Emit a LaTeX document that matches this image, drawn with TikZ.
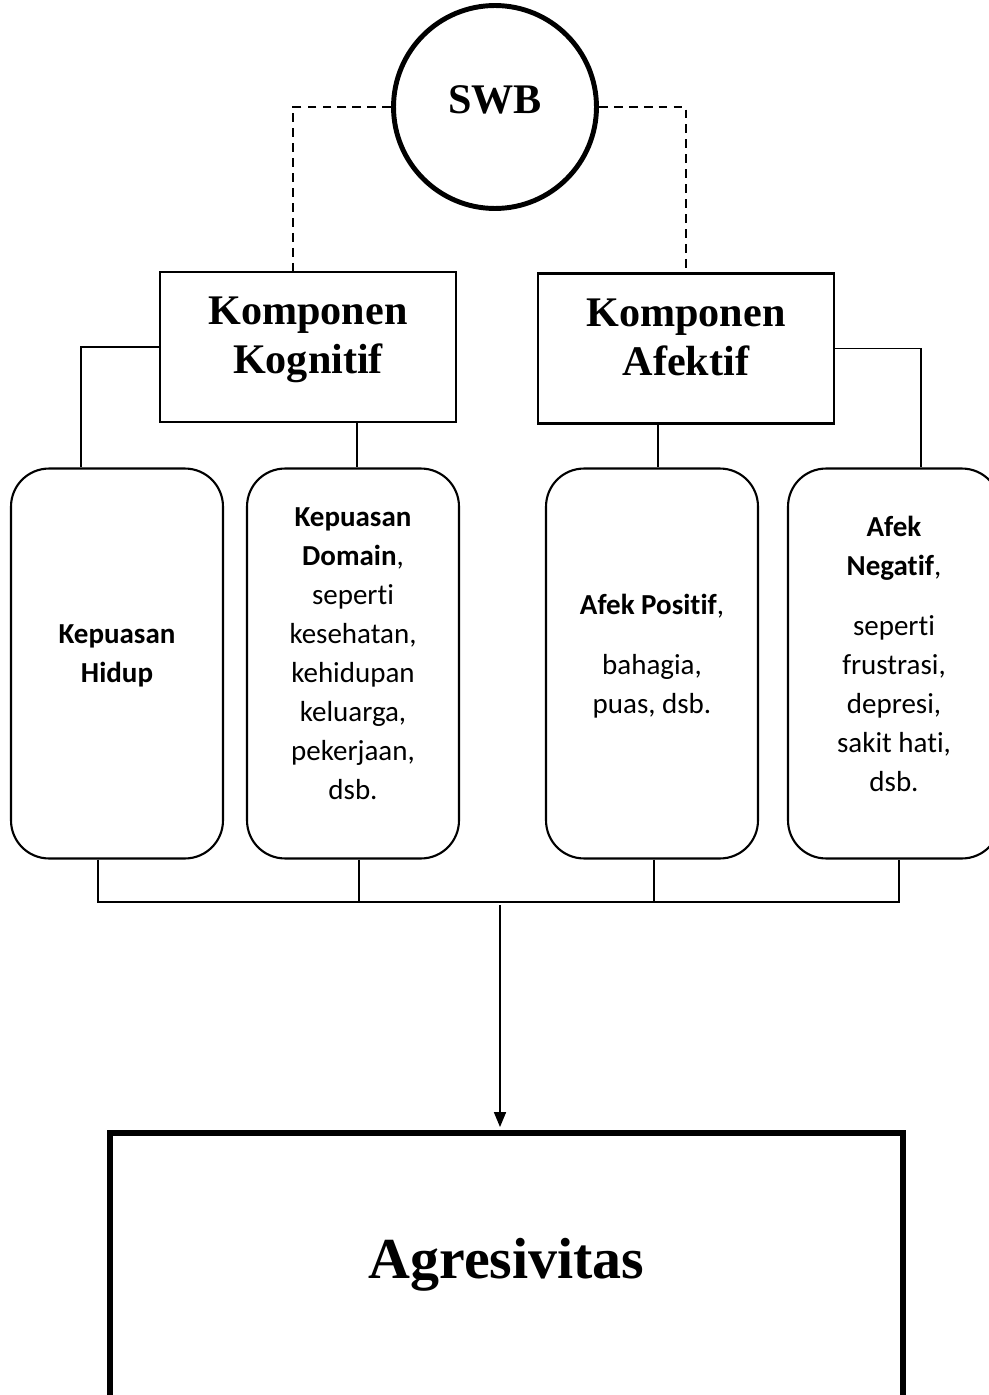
\documentclass[tikz,border=0pt]{standalone}
\usepackage{fontspec}
\setmainfont{Liberation Serif}
\newfontfamily\calibri[Ligatures=NoCommon]{Carlito}
\usepackage{tikz}
\usetikzlibrary{arrows.meta}

\tikzset{
  komp/.style={rectangle, draw=black, line width=1.2pt, minimum width=5.92cm, minimum height=3cm, align=center, text depth=13pt, font=\bfseries\fontsize{24}{28}\selectfont},
  aspek/.style={rectangle, rounded corners=0.76cm, draw=black, line width=1.2pt, minimum width=4.24cm, minimum height=7.8cm, align=center, text depth=11.4pt, font=\calibri\fontsize{16.5}{22.2}\selectfont},
  garis/.style={draw=black, line width=0.6pt}
}

\begin{document}
\begin{tikzpicture}[x=0.02cm, y=-0.02cm]
\useasboundingbox (0,0) rectangle (989,1395);

\node (swb) [circle, draw=black, line width=2.8pt, minimum size=4.06cm, text depth=8pt, font=\bfseries\fontsize{24}{27}\selectfont] at (495,107) {SWB};
\node (kog) [komp] at (308,347) {Komponen\\Kognitif};
\node (afe) [komp] at (686,348.5) {Komponen\\Afektif};

\node (hidup) [aspek] at (117,663.5) {\textbf{Kepuasan}\\\textbf{Hidup}};
\node (domain) [aspek] at (353,663.5) {\textbf{Kepuasan}\\\textbf{Domain},\\seperti\\kesehatan,\\kehidupan\\keluarga,\\pekerjaan,\\dsb.};
\node (positif) [aspek] at (652,663.5) {\textbf{Afek Positif},\\[12pt]bahagia,\\puas, dsb.};
\node (negatif) [aspek] at (894,663.5) {\textbf{Afek}\\\textbf{Negatif},\\[12pt]seperti\\frustrasi,\\depresi,\\sakit hati,\\dsb.};

\node (agresi) [rectangle, draw=black, line width=3.4pt, minimum width=15.86cm, minimum height=6cm, text depth=28pt, font=\bfseries\fontsize{33}{38}\selectfont] at (506.5,1283) {Agresivitas};

\coordinate (bus) at (500,902);

\draw[dashed, dash pattern=on 5pt off 3.5pt, line width=0.8pt] (swb.west) -| ([xshift=-0.3cm]kog.north);
\draw[dashed, dash pattern=on 5pt off 3.5pt, line width=0.8pt] (swb.east) -| (afe.north);

\draw[garis] (kog.west) -| ([xshift=-0.72cm]hidup.north);
\draw[garis] ([xshift=0.08cm]domain.north |- kog.south) -- ([xshift=0.08cm]domain.north);
\draw[garis] ([xshift=0.12cm]positif.north |- afe.south) -- ([xshift=0.12cm]positif.north);
\draw[garis] (afe.east) -| ([xshift=0.54cm]negatif.north);

\draw[garis] ([xshift=-0.38cm]hidup.south) -- ([xshift=-0.38cm]hidup.south |- bus) -- ([xshift=0.1cm]negatif.south |- bus) -- ([xshift=0.1cm]negatif.south);
\draw[garis] ([xshift=0.12cm]domain.south) -- ([xshift=0.12cm]domain.south |- bus);
\draw[garis] ([xshift=0.04cm]positif.south) -- ([xshift=0.04cm]positif.south |- bus);

\draw[-{Triangle[length=8.5pt, width=6.8pt]}, line width=1pt, shorten >=1.7pt] ([yshift=-0.06cm]bus) -- (bus |- agresi.north);
\end{tikzpicture}
\end{document}
